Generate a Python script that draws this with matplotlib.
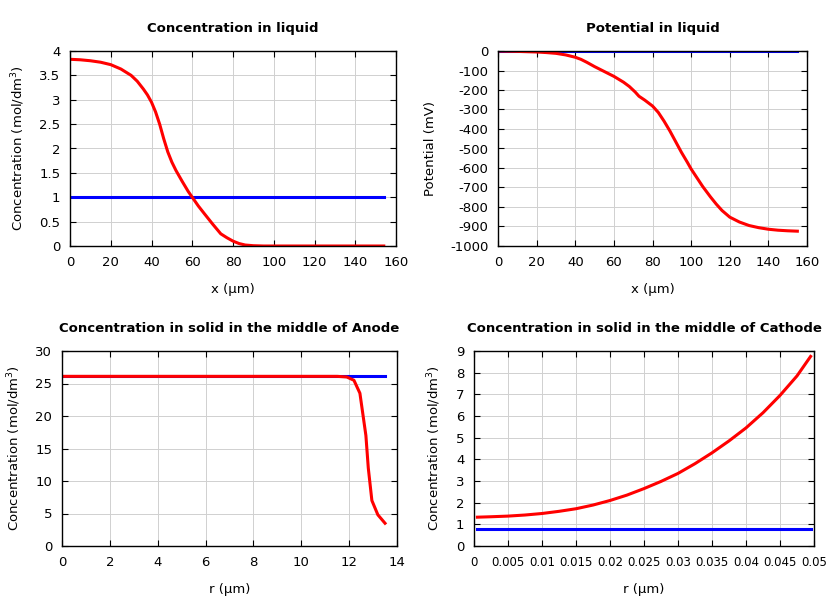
import matplotlib
matplotlib.use("Agg")
import matplotlib.pyplot as plt
from matplotlib.ticker import FuncFormatter

plt.rcParams["axes.unicode_minus"] = False
plt.rcParams["font.family"] = "DejaVu Sans"

# Concentration in liquid
liq_x = [0, 5, 10, 15, 20, 25, 30, 33, 36, 38, 40, 42, 44, 46, 48, 50, 52, 55, 58, 60, 63, 66, 70, 74, 77, 80, 83, 86, 90, 95, 100, 120, 154]
liq_c = [3.83, 3.82, 3.8, 3.77, 3.72, 3.63, 3.5, 3.38, 3.22, 3.1, 2.95, 2.75, 2.5, 2.2, 1.93, 1.72, 1.55, 1.33, 1.12, 1.0, 0.82, 0.66, 0.45, 0.25, 0.17, 0.1, 0.05, 0.02, 0.006, 0.0, 0.0, 0.0, 0.0]
liq_c_init = [1.0] * len(liq_x)

# Potential in liquid
pot_x = [0, 10, 20, 25, 30, 35, 40, 43, 46, 50, 55, 60, 65, 68, 71, 73, 76, 80, 83, 86, 89, 92, 95, 98, 100, 103, 106, 110, 113, 116, 120, 125, 130, 135, 140, 145, 150, 155]
pot_v = [0, -2, -5, -8, -12, -20, -32, -43, -58, -80, -105, -130, -160, -182, -210, -232, -252, -282, -315, -360, -410, -465, -520, -570, -605, -650, -695, -748, -785, -818, -852, -877, -895, -906, -914, -919, -922, -924]
pot_init = [0.0] * len(pot_x)

# Anode particle
an_r = [0.1, 2, 4, 6, 8, 10, 11.5, 11.9, 12.2, 12.45, 12.7, 12.8, 12.95, 13.2, 13.5]
an_c = [26.1, 26.1, 26.1, 26.1, 26.1, 26.1, 26.1, 26.0, 25.5, 23.5, 17.0, 12.0, 7.0, 4.8, 3.5]
an_init = [26.1] * len(an_r)

# Cathode particle
ca_r = [0.0005, 0.0025, 0.005, 0.0075, 0.01, 0.0125, 0.015, 0.0175, 0.02, 0.0225, 0.025, 0.0275, 0.03, 0.0325, 0.035, 0.0375, 0.04, 0.0425, 0.045, 0.0475, 0.0495]
ca_c = [1.33, 1.35, 1.38, 1.43, 1.5, 1.6, 1.72, 1.89, 2.1, 2.35, 2.65, 2.98, 3.35, 3.8, 4.3, 4.85, 5.45, 6.15, 6.95, 7.85, 8.75]
ca_init = [0.8] * len(ca_r)

fig = plt.figure(figsize=(8.4, 6), dpi=100)

def make_ax(rect, title, xlabel, ylabel):
    ax = fig.add_axes(rect)
    ax.set_title(title, fontsize=9.5, fontweight="bold", pad=14)
    ax.set_xlabel(xlabel, fontsize=9.5, labelpad=10)
    ax.set_ylabel(ylabel, fontsize=9.5, labelpad=9)
    ax.grid(True, color="#d0d0d0", linewidth=0.7)
    ax.set_axisbelow(True)
    ax.tick_params(direction="in", length=4, top=True, right=True, labelsize=9.5, pad=7)
    for s in ax.spines.values():
        s.set_linewidth(1.0)
    ax.xaxis.set_major_formatter(FuncFormatter(lambda v, p: "%g" % v))
    ax.yaxis.set_major_formatter(FuncFormatter(lambda v, p: "%g" % v))
    return ax

W, H = 840, 600
def rect(x0, y0, x1, y1):
    return [x0 / W, 1 - y1 / H, (x1 - x0) / W, (y1 - y0) / H]

ax1 = make_ax(rect(70, 51, 396, 246), "Concentration in liquid", "x (µm)", "Concentration (mol/dm$^3$)")
ax1.plot(liq_x, liq_c_init, color="blue", lw=2.2)
ax1.plot(liq_x, liq_c, color="red", lw=2.2)
ax1.set_xlim(0, 160)
ax1.set_ylim(0, 4)
ax1.set_xticks(range(0, 161, 20))
ax1.set_yticks([0, 0.5, 1, 1.5, 2, 2.5, 3, 3.5, 4])

ax2 = make_ax(rect(498, 51, 807, 246), "Potential in liquid", "x (µm)", "Potential (mV)")
ax2.plot(pot_x, pot_init, color="blue", lw=2.2)
ax2.plot(pot_x, pot_v, color="red", lw=2.2)
ax2.set_xlim(0, 160)
ax2.set_ylim(-1000, 0)
ax2.set_xticks(range(0, 161, 20))
ax2.set_yticks(range(-1000, 1, 100))

ax3 = make_ax(rect(62, 351, 397, 546), "Concentration in solid in the middle of Anode", "r (µm)", "Concentration (mol/dm$^3$)")
ax3.plot(an_r, an_init, color="blue", lw=2.2)
ax3.plot(an_r, an_c, color="red", lw=2.2)
ax3.set_xlim(0, 14)
ax3.set_ylim(0, 30)
ax3.set_xticks(range(0, 15, 2))
ax3.set_yticks(range(0, 31, 5))

ax4 = make_ax(rect(474, 351, 814, 546), "Concentration in solid in the middle of Cathode", "r (µm)", "Concentration (mol/dm$^3$)")
ax4.plot(ca_r, ca_init, color="blue", lw=2.2)
ax4.plot(ca_r, ca_c, color="red", lw=2.2)
ax4.set_xlim(0, 0.05)
ax4.set_ylim(0, 9)
ax4.set_xticks([0, 0.005, 0.01, 0.015, 0.02, 0.025, 0.03, 0.035, 0.04, 0.045, 0.05])
ax4.set_yticks(range(0, 10))
for lab in ax4.get_xticklabels():
    lab.set_fontsize(8.5)

fig.savefig("out.png", dpi=100)
